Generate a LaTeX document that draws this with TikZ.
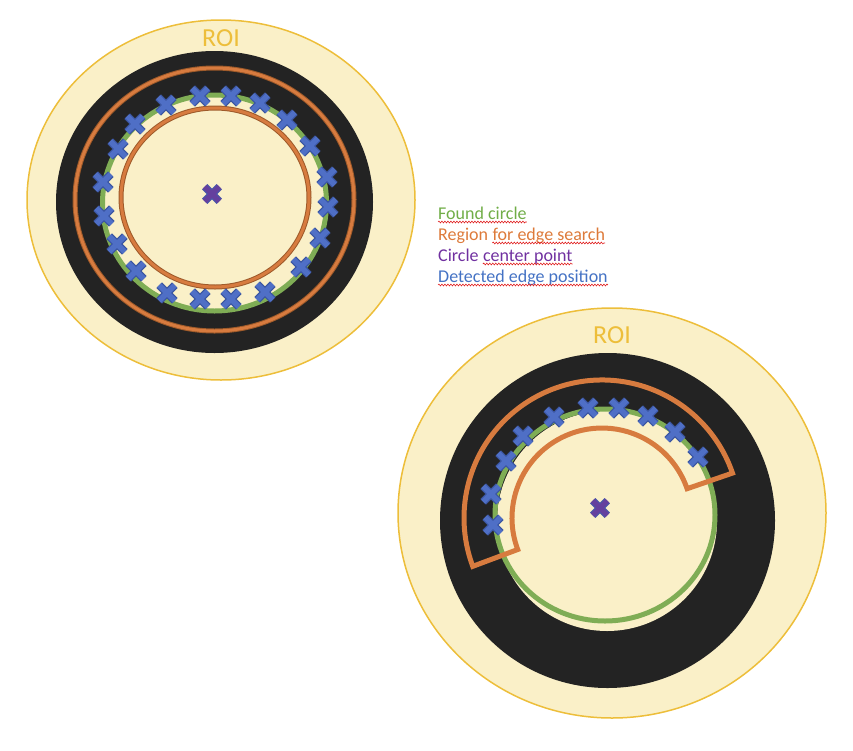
\documentclass[tikz,border=0pt]{standalone}
\usepackage{fontspec}
\setmainfont{Carlito}
\usetikzlibrary{positioning}
\usetikzlibrary{calc}
\usetikzlibrary{decorations.pathmorphing}

\definecolor{roicream}{HTML}{FAF0C8}
\definecolor{roigold}{HTML}{EDBE3A}
\definecolor{diskblack}{HTML}{232323}
\definecolor{foundgreen}{HTML}{7FAD55}
\definecolor{bandorange}{HTML}{D77B3F}
\definecolor{bandedge}{HTML}{9E5A2A}
\definecolor{edgeblue}{HTML}{4F6FC6}
\definecolor{edgedark}{HTML}{3A55A0}
\definecolor{centerfill}{HTML}{64409E}
\definecolor{centeredge}{HTML}{4A56A8}
\definecolor{legendgreen}{HTML}{70AD47}
\definecolor{legendorange}{HTML}{DD7A3A}
\definecolor{legendpurple}{HTML}{7030A0}
\definecolor{legendblue}{HTML}{4472C4}
\definecolor{spellred}{HTML}{E02020}

\tikzset{
  roi/.style={fill=roicream, draw=roigold, line width=1.5pt},
  roitext/.style={text=roigold, font=\fontsize{26}{30}\selectfont, inner sep=0pt, anchor=base},
  disk/.style={fill=diskblack},
  found/.style={draw=foundgreen, line width=5pt, fill=roicream},
  band/.style={draw=bandedge, line width=5pt, postaction={draw=bandorange, line width=3pt}},
  sector/.style={draw=bandorange, line width=5pt, line join=miter},
  legend/.style={font=\fontsize{18}{21}\selectfont, inner sep=0pt, anchor=base west},
  spellwave/.style={draw=spellred, line width=0.6pt, decorate,
    decoration={snake, amplitude=0.9pt, segment length=3pt}},
  edgex/.pic={
    \draw[line width=8pt, edgedark] (-7.8,-7.8) -- (7.8,7.8) (-7.8,7.8) -- (7.8,-7.8);
    \draw[line width=5.6pt, edgeblue] (-7.8,-7.8) -- (7.8,7.8) (-7.8,7.8) -- (7.8,-7.8);
  },
  centerx/.pic={
    \draw[line width=7.5pt, centeredge] (-7.3,-7.3) -- (7.3,7.3) (-7.3,7.3) -- (7.3,-7.3);
    \draw[line width=5pt, centerfill] (-7.3,-7.3) -- (7.3,7.3) (-7.3,7.3) -- (7.3,-7.3);
  }
}

\begin{document}
\begin{tikzpicture}[x=1pt,y=1pt]
  \useasboundingbox (0,0) rectangle (853,-750);

  % full circle search
  \draw[roi] (221,-200) ellipse [x radius=194, y radius=180];
  \fill[disk] (214.5,-202) ellipse [x radius=158.5, y radius=151];
  \draw[band] (214.5,-199.5) ellipse [x radius=139.5, y radius=131.5];
  \draw[found] (214.5,-203) ellipse [x radius=112, y radius=108];
  \draw[band] (215,-197.5) ellipse [x radius=94, y radius=89.5];
  \foreach \px/\py in {200/96, 231/96, 166/105, 260/103, 135/124, 287/120,
                       118/149, 310/146, 103/182, 327/177, 104/216, 328/207,
                       117/244, 320/238, 136/271, 301/267, 167/293, 200/299,
                       231/299, 265/292}
    \pic at (\px,-\py) {edgex};
  \pic at (212,-194) {centerx};
  \node[roitext] (roiA) at (221,-46) {ROI};

  % arc search
  \draw[roi] (612,-513) ellipse [x radius=214, y radius=205];
  \fill[disk] (607.5,-520.5) circle [radius=167.5];
  \fill[roicream] (607,-521) circle [radius=110];
  \draw[found, fill=none] (605,-515) ellipse [x radius=110, y radius=106];
  \coordinate (sc) at (602,-518);
  \draw[sector] ($(sc)+(19:138)$) arc[start angle=19, end angle=200.5, radius=138]
    -- ($(sc)+(200.5:90)$) arc[start angle=200.5, end angle=19, radius=90] -- cycle;
  \foreach \px/\py in {588/408, 619/408, 554/417, 648/416, 523/436, 675/432,
                       506/461, 698/457, 491/494, 493/525}
    \pic at (\px,-\py) {edgex};
  \pic at (600,-508) {centerx};
  \node[roitext] (roiB) at (612,-343) {ROI};

  % legend
  \node[legend, text=legendgreen] (foundtext) at (438,-219) {Found circle};
  \node[legend, text=legendorange, below=21pt of foundtext.base west, anchor=base west] (regionword) {Region};
  \node[legend, text=legendorange, right=4pt of regionword.base east, anchor=base west] (regionrest) {for edge search};
  \node[legend, text=legendpurple, below=21pt of regionword.base west, anchor=base west] (centerword) {Circle};
  \node[legend, text=legendpurple, right=4pt of centerword.base east, anchor=base west] (centerrest) {center point};
  \node[legend, text=legendblue, below=21pt of centerword.base west, anchor=base west] (edgetext) {Detected edge position};
  \foreach \w in {foundtext, regionrest, centerrest, edgetext}
    \draw[spellwave] ([yshift=-3pt]\w.base west) -- ([yshift=-3pt]\w.base east);
\end{tikzpicture}
\end{document}
